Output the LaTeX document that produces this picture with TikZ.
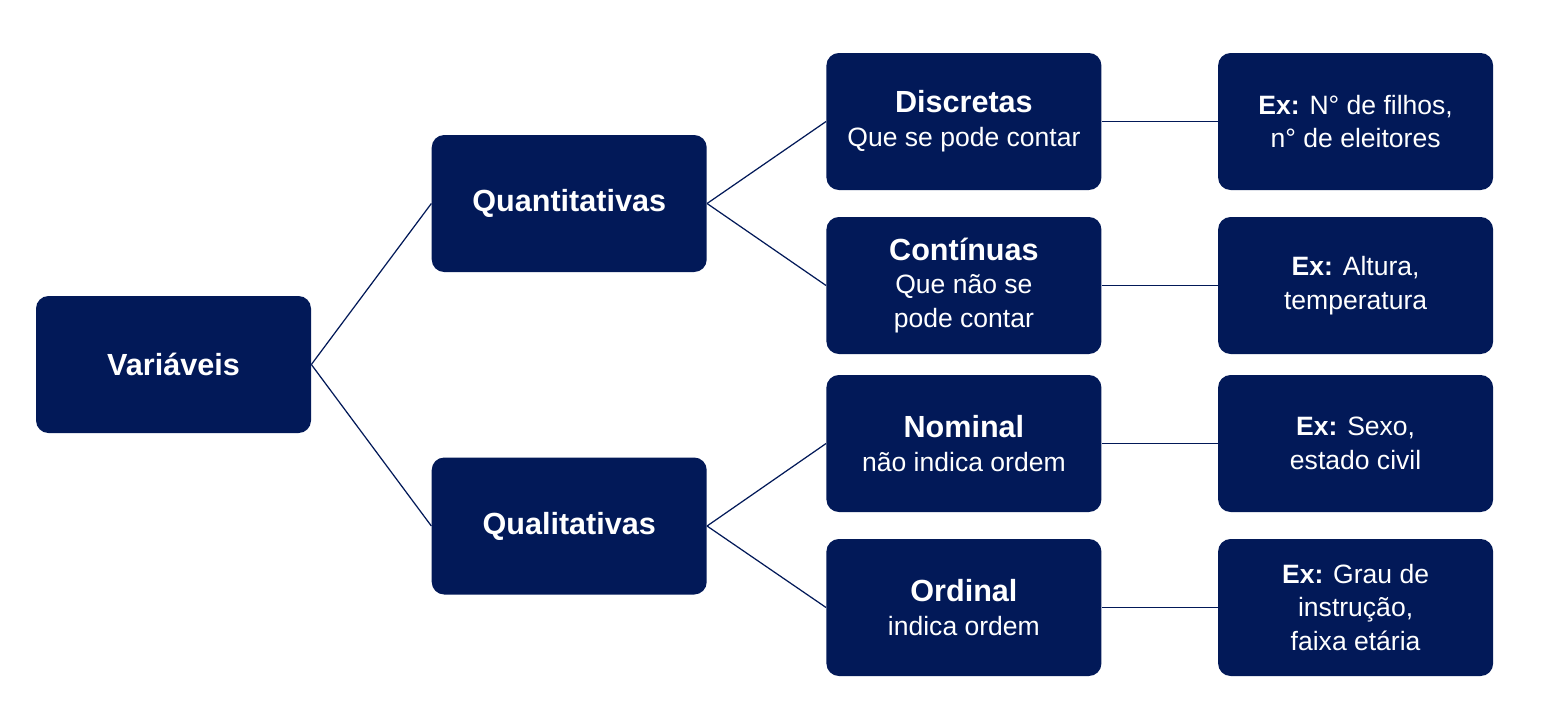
\documentclass[tikz,border=0pt]{standalone}
\usepackage{fontspec}
\setmainfont{Liberation Sans}
\usetikzlibrary{positioning}
\definecolor{navy}{RGB}{2,25,88}
\tikzstyle{box} = [rectangle, rounded corners=0.25cm, minimum width=5.5cm, minimum height=2.74cm, text centered, align=center, fill=navy, text=white, font=\fontsize{15.1}{19.3}\selectfont]
\tikzstyle{line} = [draw=navy, line width=0.7pt]
\newcommand{\boxtitle}[1]{{\fontsize{17.4}{20.5}\selectfont\bfseries #1}}

\begin{document}
\begin{tikzpicture}
				\useasboundingbox (0,0) rectangle (30.82,-14.54);

				\node (var) [box] at (3.47,-7.29) {\boxtitle{Variáveis}};
				\node (quant) [box, right=2.4cm of var, yshift=3.22cm] {\boxtitle{Quantitativas}};
				\node (qual) [box, right=2.4cm of var, yshift=-3.23cm] {\boxtitle{Qualitativas}};

				\node (disc) [box, right=2.38cm of quant, yshift=1.64cm] {\boxtitle{Discretas}\\Que se pode contar};
				\node (cont) [box, right=2.38cm of quant, yshift=-1.64cm] {\boxtitle{Contínuas}\\Que não se\\pode contar};
				\node (nom) [box, right=2.38cm of qual, yshift=1.65cm] {\boxtitle{Nominal}\\não indica ordem};
				\node (ord) [box, right=2.38cm of qual, yshift=-1.63cm] {\boxtitle{Ordinal}\\indica ordem};

				\node (exdisc) [box, right=2.32cm of disc] {\textbf{Ex:} N° de filhos,\\n° de eleitores};
				\node (excont) [box, right=2.32cm of cont] {\textbf{Ex:} Altura,\\temperatura};
				\node (exnom) [box, right=2.32cm of nom] {\textbf{Ex:} Sexo,\\estado civil};
				\node (exord) [box, right=2.32cm of ord] {\textbf{Ex:} Grau de\\instrução,\\faixa etária};

				\draw [line] (var.east) -- (quant.west);
				\draw [line] (var.east) -- (qual.west);
				\draw [line] (quant.east) -- (disc.west);
				\draw [line] (quant.east) -- (cont.west);
				\draw [line] (qual.east) -- (nom.west);
				\draw [line] (qual.east) -- (ord.west);
				\draw [line] (disc) -- (exdisc);
				\draw [line] (cont) -- (excont);
				\draw [line] (nom) -- (exnom);
				\draw [line] (ord) -- (exord);
			\end{tikzpicture}
\end{document}
